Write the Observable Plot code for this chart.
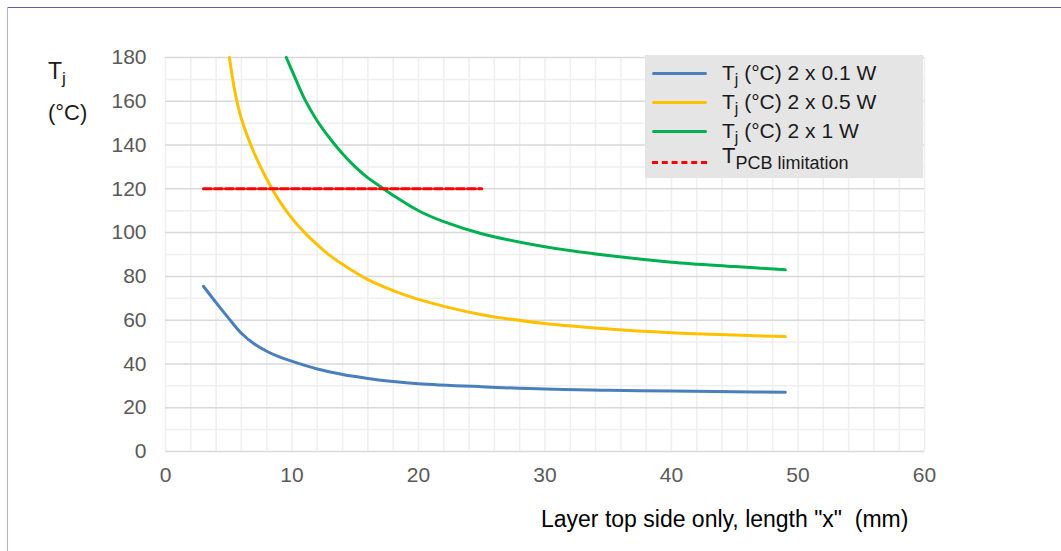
<!DOCTYPE html>
<html>
<head>
<meta charset="utf-8">
<script src="https://cdn.jsdelivr.net/npm/d3@7"></script>
<script src="https://cdn.jsdelivr.net/npm/@observablehq/plot@0.6"></script>
<style>
  html, body { margin: 0; padding: 0; background: #fff; }
  body { width: 1061px; height: 551px; position: relative; overflow: hidden; font-family: "Liberation Sans", Arial, sans-serif; }
  #chart { position: absolute; left: 0; top: 0; }
  .abs { position: absolute; }
  .legend { left: 645px; top: 55px; width: 278px; height: 123px; background: #e5e5e5; }
  .item { position: absolute; left: 0; height: 29px; width: 278px; }
  .swatch { position: absolute; left: 7px; width: 55px; height: 0; top: 14px; border-top: 3.5px solid; border-radius: 2px; }
  .ltext { position: absolute; left: 77px; top: 0; font-size: 21px; color: #1a1a1a; white-space: nowrap; line-height: 29px; }
  sub { font-size: 0.75em; vertical-align: -0.3em; line-height: 0; }
</style>
</head>
<body>
<div id="chart"></div>
<div class="abs" style="left:7px;top:7px;width:1054px;height:0;border-top:1.5px solid #6d5a9e;"></div>
<div class="abs" style="left:7px;top:7px;width:0;height:544px;border-left:1.5px solid #b8a9d8;"></div>
<div class="abs" style="left:48px;top:58px;font-size:23px;color:#1a1a1a;">T<sub>j</sub></div>
<div class="abs" style="left:48px;top:100px;font-size:22px;color:#1a1a1a;">(°C)</div>
<div class="abs" style="left:541px;top:506px;font-size:23px;color:#000;white-space:pre;">Layer top side only, length "x"  (mm)</div>
<div class="abs legend" id="legend"></div>
<script>
// ---- data ----
const xBlue   = [3, 4, 5, 6, 7, 8, 9, 10, 12, 14, 16, 18, 20, 25, 30, 35, 40, 45, 49];
const yBlue   = [75.5, 68, 60.8, 54, 49.2, 45.8, 43.2, 41.2, 37.7, 35.2, 33.4, 32, 31, 29.6, 28.5, 28, 27.6, 27.3, 27.1];

const xYellow = [5.05, 5.5, 6, 7, 8, 9, 10, 11, 12, 13, 14, 16, 18, 20, 25, 30, 35, 40, 45, 49];
const yYellow = [180, 164, 152, 136.5, 124.5, 114.5, 106.5, 100, 94.5, 89.5, 85.5, 78.5, 73.5, 69.5, 62.5, 58.5, 56, 54.3, 53.2, 52.5];

const xGreen  = [9.55, 10, 11, 12, 13, 14, 15, 16, 17, 18, 20, 22, 25, 30, 35, 40, 45, 49];
const yGreen  = [180, 174, 161, 151, 143, 136, 130, 125, 121, 117, 110, 105, 99.5, 93.5, 89.5, 86.5, 84.5, 83];

const xLimit  = [3, 25];
const yLimit  = [120, 120];

const seriesNames = ["2 x 0.1 W", "2 x 0.5 W", "2 x 1 W"];
const seriesColors = ["#4a7fbc", "#ffc000", "#00b050"];
const limitColor = "#ff0000";

const xTicks = [0, 10, 20, 30, 40, 50, 60];
const yTicks = [0, 20, 40, 60, 80, 100, 120, 140, 160, 180];
const xMinor = d3.range(0, 61, 2);
const yMinor = [10, 30, 50, 70, 90, 110, 130, 150, 170];

// ---- build ----
const toRows = (xs, ys, s) => xs.map((x, i) => ({x, y: ys[i], s}));
const lines = [
  toRows(xBlue, yBlue, seriesNames[0]),
  toRows(xYellow, yYellow, seriesNames[1]),
  toRows(xGreen, yGreen, seriesNames[2])
];
const limit = toRows(xLimit, yLimit, "limit");

const plot = Plot.plot({
  width: 1061,
  height: 551,
  marginLeft: 165,
  marginRight: 137,
  marginTop: 57,
  marginBottom: 100,
  style: { fontFamily: "'Liberation Sans', Arial, sans-serif", fontSize: "21px", color: "#595959", background: "transparent" },
  x: { domain: [0, 60], ticks: xTicks, tickSize: 0, tickPadding: 16, label: null },
  y: { domain: [0, 180], ticks: yTicks, tickSize: 0, tickPadding: 19, label: null },
  marks: [
    Plot.ruleX(xMinor, { stroke: "#efefef", strokeWidth: 1.5 }),
    Plot.ruleY(yMinor, { stroke: "#efefef", strokeWidth: 1.5 }),
    Plot.ruleY(yTicks, { stroke: "#d9d9d9", strokeWidth: 1.5 }),
    Plot.axisX({ ticks: xTicks, tickSize: 0, tickPadding: 16, fill: "#595959", fontSize: 21 }),
    Plot.axisY({ ticks: yTicks, tickSize: 0, tickPadding: 19, fill: "#595959", fontSize: 21 }),
    ...lines.map((rows, i) => Plot.line(rows, { x: "x", y: "y", stroke: seriesColors[i], strokeWidth: 3, curve: "catmull-rom" })),
    Plot.line(limit, { x: "x", y: "y", stroke: limitColor, strokeWidth: 3, strokeDasharray: "8,3" })
  ]
});
document.getElementById("chart").appendChild(plot);

// ---- legend ----
const legend = document.getElementById("legend");
const rowsTop = [3, 32, 61, 92];
seriesNames.forEach((name, i) => {
  const it = document.createElement("div");
  it.className = "item";
  it.style.top = rowsTop[i] + "px";
  it.innerHTML = `<div class="swatch" style="border-top-color:${seriesColors[i]}"></div><div class="ltext">T<sub>j</sub> (°C) ${name}</div>`;
  legend.appendChild(it);
});
const lim = document.createElement("div");
lim.className = "item";
lim.style.top = rowsTop[3] + "px";
lim.innerHTML = `<div class="swatch" style="border-top:3px dashed ${limitColor};border-radius:0"></div><div class="ltext" style="top:-6px;font-size:22px">T<span style="font-size:18px;vertical-align:-0.35em">PCB limitation</span></div>`;
legend.appendChild(lim);
</script>
</body>
</html>
